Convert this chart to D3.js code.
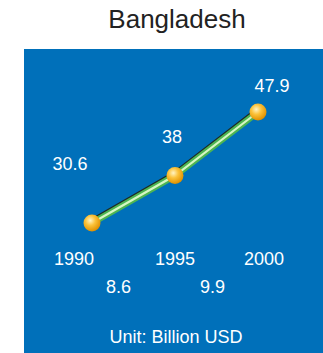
<!DOCTYPE html>
<html>
<head>
<meta charset="utf-8">
<script src="https://cdn.jsdelivr.net/npm/d3@7"></script>
<style>
  body { margin: 0; background: #fff; }
  svg text { font-family: "Liberation Sans", Arial, sans-serif; }
</style>
</head>
<body>
<div id="chart"></div>
<script>
// data
var years = [1990, 1995, 2000];
var values = [30.6, 38, 47.9];
var increments = [8.6, 9.9];
var title = "Bangladesh";
var unit = "Unit: Billion USD";

var width = 323, height = 353;

var svg = d3.select("#chart").append("svg")
  .attr("width", width)
  .attr("height", height);

var defs = svg.append("defs");
var grad = defs.append("radialGradient")
  .attr("id", "ball")
  .attr("cx", "40%").attr("cy", "35%").attr("r", "65%");
grad.append("stop").attr("offset", "0%").attr("stop-color", "#fff4c4");
grad.append("stop").attr("offset", "45%").attr("stop-color", "#fbc23a");
grad.append("stop").attr("offset", "100%").attr("stop-color", "#e09000");

// title
svg.append("text")
  .attr("x", 177).attr("y", 28)
  .attr("text-anchor", "middle")
  .attr("font-size", 26)
  .attr("fill", "#222")
  .text(title);

// blue panel
svg.append("rect")
  .attr("x", 24).attr("y", 49)
  .attr("width", width - 24).attr("height", height - 49)
  .attr("fill", "#0070ba");

var x = d3.scaleLinear().domain([1990, 2000]).range([92, 258]);
var y = d3.scaleLinear().domain([30.6, 47.9]).range([223, 112]);

var pts = years.map(function(d, i) { return [d, values[i]]; });

var line = d3.line()
  .x(function(d) { return x(d[0]); })
  .y(function(d) { return y(d[1]); });

// tube: shadow, body, highlight
svg.append("path").datum(pts)
  .attr("d", line)
  .attr("transform", "translate(-1,-2.5)")
  .attr("fill", "none")
  .attr("stroke", "#1e2b24")
  .attr("stroke-width", 3.5);
svg.append("path").datum(pts)
  .attr("d", line)
  .attr("fill", "none")
  .attr("stroke", "#4db552")
  .attr("stroke-width", 6.5);
svg.append("path").datum(pts)
  .attr("d", line)
  .attr("fill", "none")
  .attr("stroke", "#d6f7c4")
  .attr("stroke-width", 2.2);

// markers
svg.selectAll("circle.pt")
  .data(pts)
  .enter().append("circle")
  .attr("class", "pt")
  .attr("cx", function(d) { return x(d[0]); })
  .attr("cy", function(d) { return y(d[1]); })
  .attr("r", 8.5)
  .attr("fill", "url(#ball)");

// value labels (offsets relative to points)
var valOff = [[-22, -53], [-3, -33], [14, -20]];
svg.selectAll("text.val")
  .data(pts)
  .enter().append("text")
  .attr("class", "val")
  .attr("x", function(d, i) { return x(d[0]) + valOff[i][0]; })
  .attr("y", function(d, i) { return y(d[1]) + valOff[i][1]; })
  .attr("text-anchor", "middle")
  .attr("font-size", 18)
  .attr("fill", "#fff")
  .text(function(d) { return d[1]; });

// year labels
var yearOff = [-18, 0, 6];
svg.selectAll("text.year")
  .data(years)
  .enter().append("text")
  .attr("class", "year")
  .attr("x", function(d, i) { return x(d) + yearOff[i]; })
  .attr("y", 265)
  .attr("text-anchor", "middle")
  .attr("font-size", 18)
  .attr("fill", "#fff")
  .text(function(d) { return d; });

// increments between years
var incOff = [-15, -4];
svg.selectAll("text.inc")
  .data(increments)
  .enter().append("text")
  .attr("class", "inc")
  .attr("x", function(d, i) { return x((years[i] + years[i + 1]) / 2) + incOff[i]; })
  .attr("y", 293)
  .attr("text-anchor", "middle")
  .attr("font-size", 18)
  .attr("fill", "#fff")
  .text(function(d) { return d; });

svg.append("text")
  .attr("x", 176).attr("y", 343)
  .attr("text-anchor", "middle")
  .attr("font-size", 18)
  .attr("fill", "#fff")
  .text(unit);
</script>
</body>
</html>
